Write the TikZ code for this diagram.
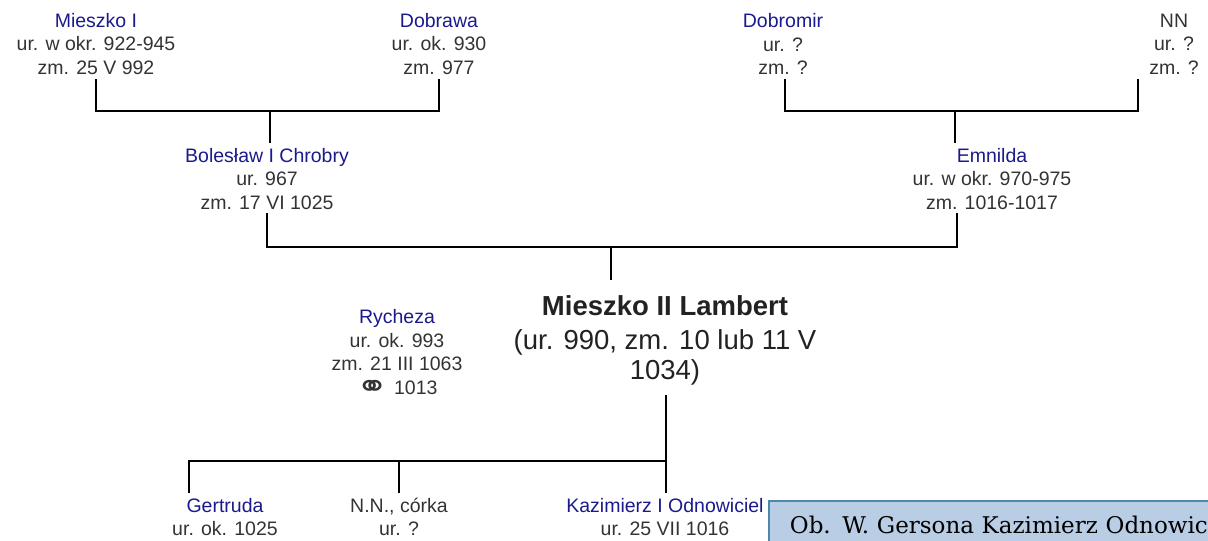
\documentclass[tikz,border=0pt]{standalone}
\usepackage{fontspec}
\setmainfont{Liberation Sans}
\newfontfamily\symfont{DejaVu Sans}
\newfontfamily\boxfont{DejaVu Serif}
\definecolor{namecol}{RGB}{26,26,140}
\definecolor{datecol}{RGB}{51,51,51}
\definecolor{maincol}{RGB}{34,34,34}
\definecolor{boxfill}{RGB}{185,205,229}
\definecolor{boxedge}{RGB}{74,138,168}
\newcommand\pname[1]{\textcolor{namecol}{#1}}
\newcommand\marriedsym{\smash{\raisebox{-3pt}{\scalebox{1.2}[1]{\symfont\fontsize{32}{32}\selectfont ⚭}}}}
\begin{document}
\begin{tikzpicture}[x=1pt,y=-1pt,
  person/.style={align=center, inner sep=0pt, text=datecol, font=\fontsize{19.5}{23.5}\selectfont},
  mainperson/.style={align=center, inner sep=0pt, text=maincol, font=\fontsize{27.5}{30}\selectfont},
  link/.style={line width=2pt, draw=black},
  notebox/.style={draw=boxedge, line width=1.8pt, fill=boxfill, anchor=north west, inner xsep=21pt, inner ysep=0pt, text height=33pt, text depth=60pt, text width=470pt, align=left, font=\boxfont\fontsize{23}{28}\selectfont}]
\useasboundingbox (0,0) rectangle (1208,541);
\clip (0,0) rectangle (1208,541);

% generation 1
\node[person] (m1) at (96,44) {\pname{Mieszko I}\\ur. w okr. 922-945\\zm. 25 V 992};
\node[person] (dob) at (439,44) {\pname{Dobrawa}\\ur. ok. 930\\zm. 977};
\node[person] (dmr) at (783,44) {\pname{Dobromir}\\ur. ?\\zm. ?};
\node[person] (nn) at (1174,44) {NN\\ur. ?\\zm. ?};

% generation 2
\node[person] (bol) at (267,179) {\pname{Bolesław I Chrobry}\\ur. 967\\zm. 17 VI 1025};
\node[person] (emn) at (992,179) {\pname{Emnilda}\\ur. w okr. 970-975\\zm. 1016-1017};

% generation 3
\node[person, text depth=0pt] (ryc) at (397,352) {\pname{Rycheza}\\ur. ok. 993\\zm. 21 III 1063\\\marriedsym\ 1013};
\node[mainperson] (m2) at (665,340) {\textbf{Mieszko II Lambert}\\[4pt](ur. 990, zm. 10 lub 11 V\\1034)};

% generation 4
\node[person] (ger) at (225,517) {\pname{Gertruda}\\ur. ok. 1025};
\node[person] (nnc) at (399,517) {N.N., córka\\ur. ?};
\node[person] (kaz) at (665,517) {\pname{Kazimierz I Odnowiciel}\\ur. 25 VII 1016};

% note box
\node[notebox] (note) at (768,500) {Ob. W. Gersona Kazimierz Odnowiciel};

% connector points
\coordinate (m1a) at (96,79);
\coordinate (doba) at (439,79);
\coordinate (j1) at (270,111);
\coordinate (j1b) at (270,143);
\coordinate (dmra) at (785,79);
\coordinate (nna) at (1138,79);
\coordinate (j2) at (955,111);
\coordinate (j2b) at (955,143);
\coordinate (bola) at (267,213);
\coordinate (emna) at (957,213);
\coordinate (j3) at (611,247);
\coordinate (j3b) at (611,280);
\coordinate (m2a) at (666,395);
\coordinate (j4) at (666,461);
\coordinate (gera) at (189,493);
\coordinate (nnca) at (399,493);
\coordinate (kaza) at (666,493);

\draw[link] (m1a) |- (j1) -| (doba);
\draw[link] (j1) -- (j1b);
\draw[link] (dmra) |- (j2) -| (nna);
\draw[link] (j2) -- (j2b);
\draw[link] (bola) |- (j3) -| (emna);
\draw[link] (j3) -- (j3b);
\draw[link] (m2a) -- (kaza);
\draw[link] (gera) |- (j4);
\draw[link] (nnca) -- (nnca |- j4);
\end{tikzpicture}
\end{document}
